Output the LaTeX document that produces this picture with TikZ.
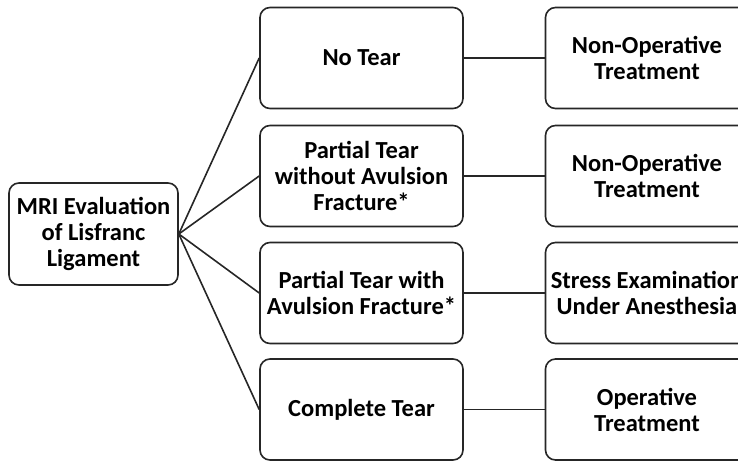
\documentclass[tikz,border=0pt]{standalone}
\usepackage{fontspec}
\setmainfont{Carlito}
\begin{document}
\begin{tikzpicture}[x=1pt,y=-1pt,
  box/.style={draw=black!85, line width=1.6pt, rounded corners=10pt, align=center,
    inner sep=0pt, font=\fontsize{24.5}{26}\selectfont\bfseries, text=black},
  mbox/.style={box, minimum width=203pt, minimum height=101pt},
  link/.style={draw=black!85, line width=1.6pt}]
\useasboundingbox (0,0) rectangle (738,461);
\clip (0,0) rectangle (738,461);
\node[box, minimum width=169pt, minimum height=102pt] (L) at (93.5,234) {MRI Evaluation\\of Lisfranc\\Ligament};
\node[mbox] (m1) at (361.5,58) {No Tear};
\node[mbox] (m2) at (361.5,176) {Partial Tear\\without Avulsion\\Fracture*};
\node[mbox] (m3) at (361.5,293) {Partial Tear with\\Avulsion Fracture*};
\node[mbox] (m4) at (361.5,409.5) {Complete Tear};
\node[mbox] (r1) at (647,58) {Non-Operative\\Treatment};
\node[mbox] (r2) at (647,176) {Non-Operative\\Treatment};
\node[mbox] (r3) at (647,293) {Stress Examination\\Under Anesthesia};
\node[mbox] (r4) at (647,409.5) {Operative\\Treatment};
\foreach \i in {1,2,3,4} {
  \draw[link] (L.east) -- (m\i.west);
  \draw[link] (m\i.east) -- (r\i.west);
}
\end{tikzpicture}
\end{document}
